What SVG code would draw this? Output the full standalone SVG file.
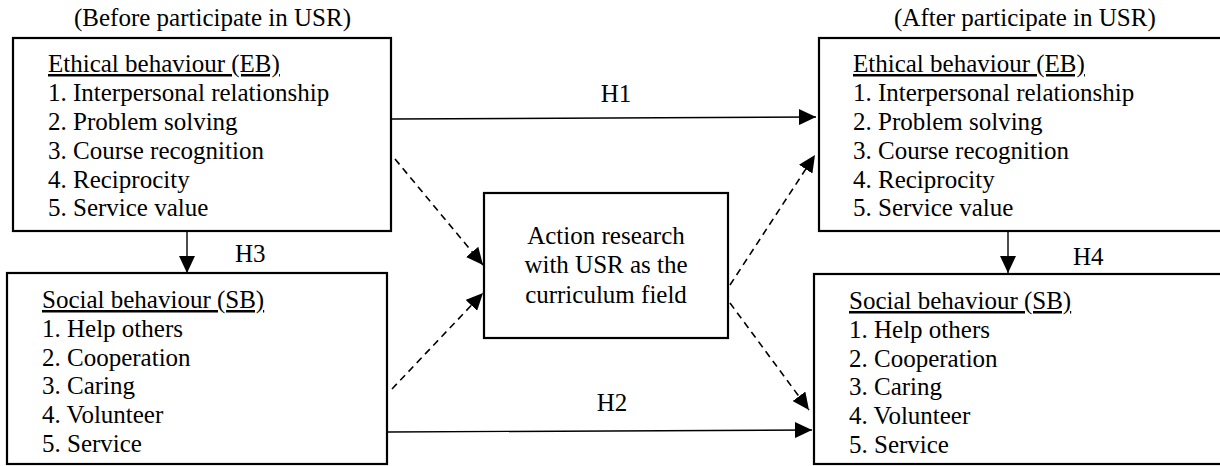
<svg xmlns="http://www.w3.org/2000/svg" width="1220" height="466" viewBox="0 0 1220 466" font-family="'Liberation Serif', 'DejaVu Serif', 'Times New Roman', serif" font-size="25">
<style>
text{font-family:"Liberation Serif","DejaVu Serif","Times New Roman",serif;font-size:25px;fill:#000}
.hd{text-decoration:underline}
.box{fill:#fff;stroke:#000;stroke-width:2.2}
.ln{fill:none;stroke:#000;stroke-width:1.4}
.ds{fill:none;stroke:#000;stroke-width:1.6;stroke-dasharray:7 5}
.mid{text-anchor:middle}
</style>
<defs>
<marker id="ah" markerUnits="userSpaceOnUse" markerWidth="18" markerHeight="16" refX="17" refY="8" orient="auto">
<path d="M0,0 L17,8 L0,16 Z" fill="#000"/>
</marker>
</defs>
<rect width="1220" height="466" fill="#fff"/>
<text x="74" y="26">(Before participate in USR)</text>
<text x="894" y="26">(After participate in USR)</text>
<g id="eb-before">
<rect class="box" x="13" y="38" width="378" height="193"/>
<text class="hd" x="48" y="72">Ethical behaviour (EB)</text>
<text x="48" y="101">1. Interpersonal relationship</text>
<text x="48" y="130">2. Problem solving</text>
<text x="48" y="159">3. Course recognition</text>
<text x="48" y="188">4. Reciprocity</text>
<text x="48" y="216">5. Service value</text>
</g>
<g id="sb-before">
<rect class="box" x="7" y="273" width="380" height="191"/>
<text class="hd" x="42" y="308">Social behaviour (SB)</text>
<text x="42" y="337">1. Help others</text>
<text x="42" y="366">2. Cooperation</text>
<text x="42" y="394">3. Caring</text>
<text x="42" y="423">4. Volunteer</text>
<text x="42" y="452">5. Service</text>
</g>
<g id="action">
<rect class="box" x="484" y="193" width="244" height="145"/>
<text class="mid" x="606" y="244">Action research</text>
<text class="mid" x="606" y="273">with USR as the</text>
<text class="mid" x="606" y="303">curriculum field</text>
</g>
<g id="eb-after">
<rect class="box" x="819" y="38" width="406" height="193"/>
<text class="hd" x="853" y="72">Ethical behaviour (EB)</text>
<text x="853" y="101">1. Interpersonal relationship</text>
<text x="853" y="130">2. Problem solving</text>
<text x="853" y="159">3. Course recognition</text>
<text x="853" y="188">4. Reciprocity</text>
<text x="853" y="216">5. Service value</text>
</g>
<g id="sb-after">
<rect class="box" x="814" y="274" width="411" height="190"/>
<text class="hd" x="849" y="309">Social behaviour (SB)</text>
<text x="849" y="338">1. Help others</text>
<text x="849" y="367">2. Cooperation</text>
<text x="849" y="395">3. Caring</text>
<text x="849" y="424">4. Volunteer</text>
<text x="849" y="453">5. Service</text>
</g>
<g id="connectors">
<line class="ln" x1="392" y1="119" x2="816" y2="117" marker-end="url(#ah)"/>
<line class="ln" x1="388" y1="432" x2="812" y2="430" marker-end="url(#ah)"/>
<line class="ln" x1="187" y1="232" x2="187" y2="273" marker-end="url(#ah)"/>
<line class="ln" x1="1008" y1="232" x2="1008" y2="273" marker-end="url(#ah)"/>
<line class="ds" x1="395" y1="159" x2="483" y2="265" marker-end="url(#ah)"/>
<line class="ds" x1="392" y1="389" x2="483" y2="293" marker-end="url(#ah)"/>
<line class="ds" x1="730" y1="285" x2="815" y2="155" marker-end="url(#ah)"/>
<line class="ds" x1="730" y1="303" x2="809" y2="410" marker-end="url(#ah)"/>
<text class="mid" x="616" y="102">H1</text>
<text class="mid" x="612" y="411">H2</text>
<text x="235" y="262">H3</text>
<text x="1073" y="265">H4</text>
</g>
</svg>
